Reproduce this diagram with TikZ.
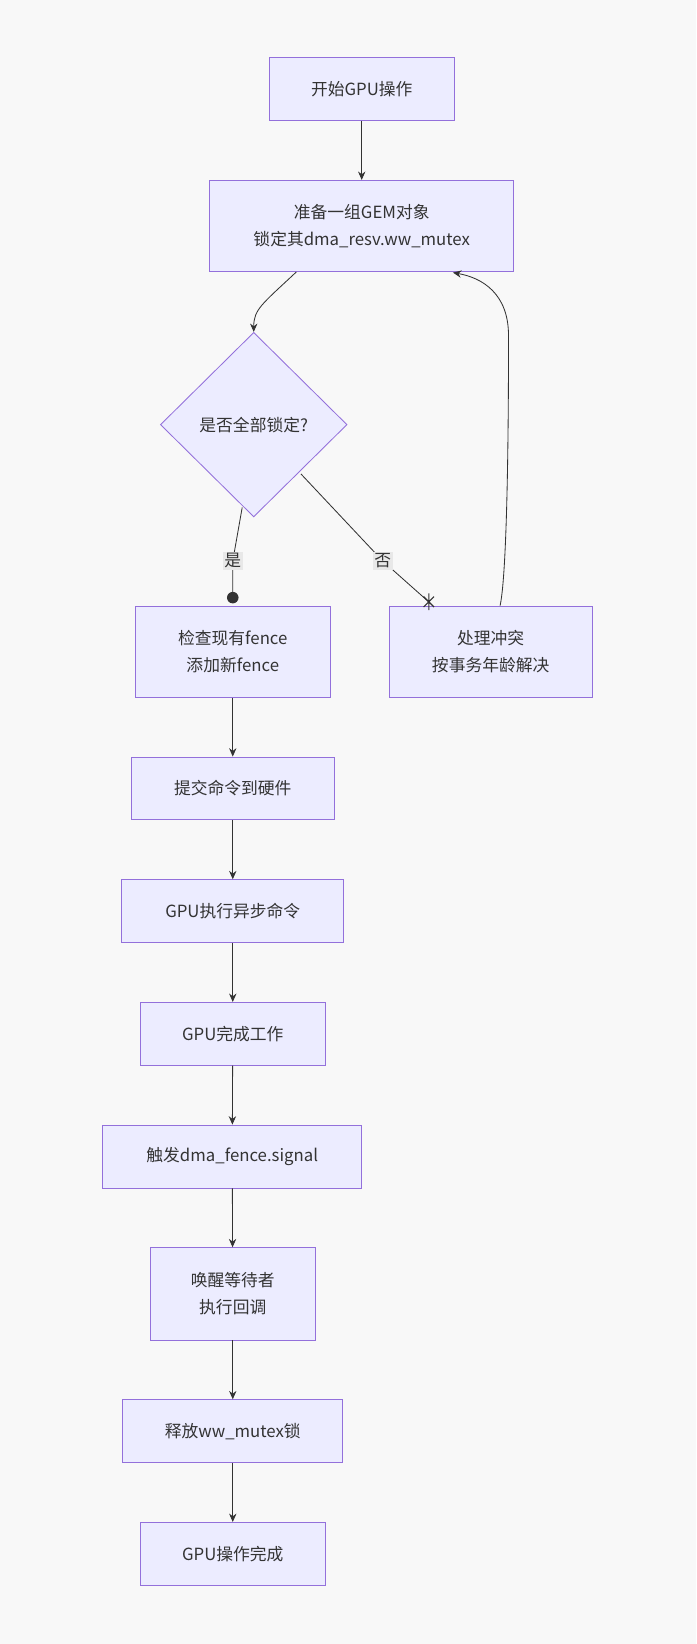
\documentclass[tikz,border=0pt]{standalone}
\usepackage{fontspec}
\setmainfont{Noto Sans CJK SC}
\usetikzlibrary{shapes.geometric,arrows.meta}
\definecolor{bx}{HTML}{ECECFF}
\definecolor{bd}{HTML}{9370DB}
\definecolor{tx}{HTML}{333333}
\definecolor{bg}{HTML}{F8F8F8}
\definecolor{lb}{HTML}{E8E8E8}
\begin{document}
\begin{tikzpicture}[x=1pt,y=-1pt,
  box/.style={draw=bd,fill=bx,line width=0.8pt,text=tx,align=center,font=\fontsize{16}{26}\selectfont,inner sep=0pt},
  ar/.style={draw=tx,line width=0.8pt,-{Stealth[length=8pt,width=7pt]}},
  lab/.style={fill=lb,text=tx,font=\fontsize{16}{18}\selectfont,inner sep=1.5pt}]
\fill[bg] (0,0) rectangle (664,1568);
\useasboundingbox (0,0) rectangle (664,1568);
\node[box,minimum width=176,minimum height=60] (start) at (345,85) {开始GPU操作};
\node[box,minimum width=290,minimum height=87] (prep) at (345,215.5) {准备一组GEM对象\\锁定其dma\_resv.ww\_mutex};
\node[box,diamond,minimum width=178,minimum height=176] (dec) at (242,405) {是否全部锁定?};
\node[box,minimum width=186,minimum height=87] (check) at (222,621.5) {检查现有fence\\添加新fence};
\node[box,minimum width=194,minimum height=87] (conf) at (468,621.5) {处理冲突\\按事务年龄解决};
\node[box,minimum width=194,minimum height=60] (sub) at (222,752) {提交命令到硬件};
\node[box,minimum width=212,minimum height=60] (exec) at (222,869) {GPU执行异步命令};
\node[box,minimum width=176,minimum height=60] (gdone) at (222,986) {GPU完成工作};
\node[box,minimum width=247,minimum height=60] (sig) at (221.5,1103) {触发dma\_fence.signal};
\node[box,minimum width=158,minimum height=88] (wake) at (222,1234) {唤醒等待者\\执行回调};
\node[box,minimum width=210,minimum height=60] (rel) at (222,1365) {释放ww\_mutex锁};
\node[box,minimum width=176,minimum height=60] (fin) at (222,1482) {GPU操作完成};
\draw[ar] (start) -- (prep);
\draw[ar] (prep.south west)++(83,0) .. controls (250,290) and (242,295) .. (dec.north);
\draw[tx,line width=0.8pt] (231,484) .. controls (226,510) .. (222,535) node[lab] {是} -- (222,570);
\fill[tx] (222,570) circle (5.5);
\draw[tx,line width=0.8pt] (287,452) -- (365,535) node[lab] {否} -- (410,575);
\draw[tx,line width=1.1pt] (404,569)--(414,579) (404,579)--(414,569) (409,566)--(409,582);
\draw[ar] (conf.north)++(9,0) .. controls (485,540) and (485,360) .. (485,320) .. controls (485,280) and (460,265) .. (432,260);
\draw[ar] (check) -- (sub);
\draw[ar] (sub) -- (exec);
\draw[ar] (exec) -- (gdone);
\draw[ar] (gdone) -- (sig);
\draw[ar] (sig) -- (wake);
\draw[ar] (wake) -- (rel);
\draw[ar] (rel) -- (fin);
\end{tikzpicture}
\end{document}
